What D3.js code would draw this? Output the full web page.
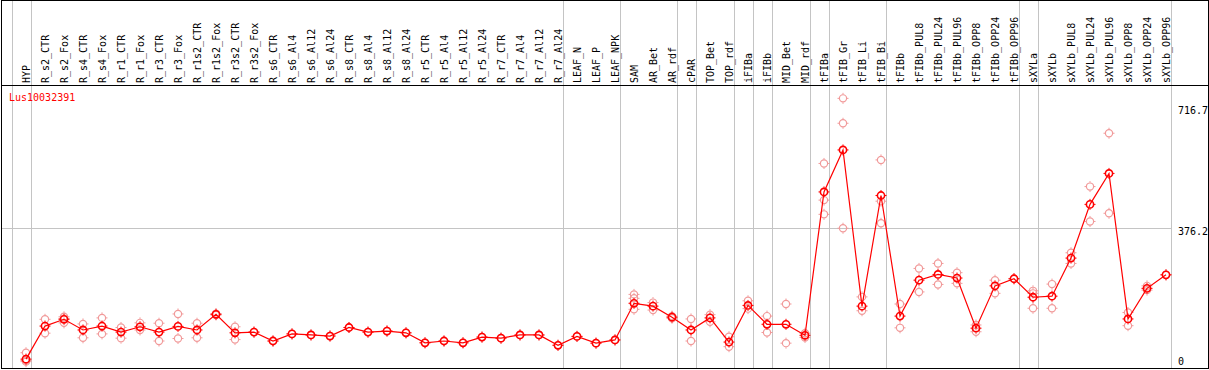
<!DOCTYPE html>
<html>
<head>
<meta charset="utf-8">
<script src="https://d3js.org/d3.v7.min.js"></script>
<style>
  body { margin: 0; background: #fff; }
  svg { display: block; }
  text { font-family: 'DejaVu Sans Mono', monospace; font-size: 10px; }
</style>
</head>
<body>
<div id="chart"></div>
<script>

  // sample names along the top
  var categories = ["HYP", "R_s2_CTR", "R_s2_Fox", "R_s4_CTR", "R_s4_Fox", "R_r1_CTR", "R_r1_Fox",
    "R_r3_CTR", "R_r3_Fox", "R_r1s2_CTR", "R_r1s2_Fox", "R_r3s2_CTR", "R_r3s2_Fox", "R_s6_CTR",
    "R_s6_Al4", "R_s6_Al12", "R_s6_Al24", "R_s8_CTR", "R_s8_Al4", "R_s8_Al12", "R_s8_Al24",
    "R_r5_CTR", "R_r5_Al4", "R_r5_Al12", "R_r5_Al24", "R_r7_CTR", "R_r7_Al4", "R_r7_Al12", "R_r7_Al24",
    "LEAF_N", "LEAF_P", "LEAF_NPK", "SAM", "AR_Bet", "AR_rdf", "cPAR", "TOP_Bet", "TOP_rdf",
    "iFIBa", "iFIBb", "MID_Bet", "MID_rdf", "tFIBa", "tFIB_Gr", "tFIB_Li", "tFIB_Bi", "tFIBb",
    "tFIBb_PUL8", "tFIBb_PUL24", "tFIBb_PUL96", "tFIBb_OPP8", "tFIBb_OPP24", "tFIBb_OPP96",
    "sXYLa", "sXYLb", "sXYLb_PUL8", "sXYLb_PUL24", "sXYLb_PUL96", "sXYLb_OPP8", "sXYLb_OPP24", "sXYLb_OPP96"];

  // mean expression per sample
  var means = [8, 101, 120, 90, 101, 84, 99, 84, 100, 90, 134, 82, 84, 59,
    79, 76, 73, 97, 84, 87, 82,
    54, 59, 54, 70, 67, 76, 76, 47,
    72, 53, 62, 165, 157, 126, 90, 124, 56,
    159, 106, 106, 75, 478, 596, 157, 468, 129,
    230, 246, 236, 95, 214, 234,
    182, 185, 292, 443, 530, 121, 207, 245];

  // replicate values per sample (same order as categories)
  var replicates = [[26, 4, 1], [120, 81], [127, 122, 110], [107, 68], [124, 79], [97, 67], [110, 90],
    [109, 59], [135, 66], [109, 68], [136, 132], [99, 63], [84], [59],
    [79], [76], [73], [97], [84], [87], [82],
    [54], [59], [54], [70], [67], [76], [76], [47],
    [72], [53], [62], [190, 179, 148], [167, 146], [129, 123], [121, 59], [133, 113], [71, 43],
    [172, 150], [129, 83], [163, 53], [81, 69], [558, 455, 415], [741, 671, 376], [183, 144], [568, 452, 390], [163, 96],
    [263, 197], [277, 218], [251, 221], [104, 85], [230, 193], [234],
    [200, 193, 151], [219, 151], [307, 277], [493, 395], [643, 418], [139, 102], [214, 202], [245]];

  // a grey separator is drawn after each of these samples
  var groupEnds = ["HYP", "R_r7_Al24", "LEAF_NPK", "AR_rdf", "cPAR", "TOP_rdf", "iFIBa", "iFIBb",
    "MID_rdf", "tFIBa", "tFIB_Bi", "tFIBb_OPP96", "sXYLa", "sXYLb_OPP96"];

  var yTicks = [0, 376.2, 716.7];
  var geneName = "Lus10032391";

  var width = 1209, height = 370;
  var headerBottom = 85.5;

  var svg = d3.select("#chart")
    .append("svg")
    .attr("width", width)
    .attr("height", height);

  var x = d3.scalePoint()
    .domain(categories)
    .range([26, 1166]);

  var y = d3.scaleLinear()
    .domain([0, 716.7])
    .range([362, 107]);

  // vertical separators (run through header too)
  var sepX = [x("HYP") - 14.5].concat(groupEnds.map(function (c) { return x(c) + 4.5; }));
  svg.selectAll("line.sep")
    .data(sepX)
    .enter()
    .append("line")
    .attr("class", "sep")
    .attr("x1", function (d) { return Math.round(d) + 0.5; })
    .attr("x2", function (d) { return Math.round(d) + 0.5; })
    .attr("y1", 0)
    .attr("y2", 369)
    .attr("stroke", "#c4c4c4")
    .attr("stroke-width", 1)
    .attr("shape-rendering", "crispEdges");

  // middle horizontal gridline
  svg.append("line")
    .attr("x1", 1)
    .attr("x2", Math.round(x("sXYLb_OPP96") + 4.5))
    .attr("y1", Math.round(y(376.2)) + 0.5)
    .attr("y2", Math.round(y(376.2)) + 0.5)
    .attr("stroke", "#c4c4c4")
    .attr("shape-rendering", "crispEdges");

  // frame
  svg.append("rect")
    .attr("x", 1.5)
    .attr("y", 0.5)
    .attr("width", 1206.5)
    .attr("height", 368)
    .attr("fill", "none")
    .attr("stroke", "#000")
    .attr("shape-rendering", "crispEdges");

  svg.append("line")
    .attr("x1", 1)
    .attr("x2", 1208)
    .attr("y1", headerBottom)
    .attr("y2", headerBottom)
    .attr("stroke", "#000")
    .attr("shape-rendering", "crispEdges");

  // rotated sample labels
  svg.selectAll("text.cat")
    .data(categories)
    .enter()
    .append("text")
    .attr("class", "cat")
    .attr("transform", function (d) { return "translate(" + (x(d) + 4) + "," + 83 + ")rotate(-90)"; })
    .attr("text-anchor", "start")
    .attr("fill", "#000")
    .text(function (d) { return d; });

  // y labels on the right
  svg.selectAll("text.ytick")
    .data(yTicks)
    .enter()
    .append("text")
    .attr("class", "ytick")
    .attr("x", 1178)
    .attr("y", function (d) { return Math.min(y(d) + 3, 361) + 3.5; })
    .attr("fill", "#000")
    .text(function (d) { return d; });

  svg.append("text")
    .attr("x", 9)
    .attr("y", 101)
    .attr("fill", "#ff0000")
    .text(geneName);

  // marker: circle with four small ticks
  function marker(g, color, sw) {
    g.append("circle")
      .attr("r", 3.6)
      .attr("fill", "none")
      .attr("stroke", color)
      .attr("stroke-width", sw);
    [[0, -4, 0, -5.5], [0, 4, 0, 5.5], [-4, 0, -5.5, 0], [4, 0, 5.5, 0]].forEach(function (t) {
      g.append("line")
        .attr("x1", t[0]).attr("y1", t[1])
        .attr("x2", t[2]).attr("y2", t[3])
        .attr("stroke", color)
        .attr("stroke-width", 1);
    });
  }

  // replicates
  var repData = [];
  replicates.forEach(function (r, i) {
    r.forEach(function (v) { repData.push({ cat: categories[i], value: v }); });
  });
  svg.selectAll("g.rep")
    .data(repData)
    .enter()
    .append("g")
    .attr("class", "rep")
    .attr("transform", function (d) { return "translate(" + x(d.cat) + "," + y(d.value) + ")"; })
    .each(function () { marker(d3.select(this), "#f19a9a", 1.2); });

  // mean line
  var line = d3.line()
    .x(function (d, i) { return x(categories[i]); })
    .y(function (d) { return y(d); });

  svg.append("path")
    .datum(means)
    .attr("d", line)
    .attr("fill", "none")
    .attr("stroke", "#ff0000")
    .attr("stroke-width", 1.2);

  svg.selectAll("g.mean")
    .data(means)
    .enter()
    .append("g")
    .attr("class", "mean")
    .attr("transform", function (d, i) { return "translate(" + x(categories[i]) + "," + y(d) + ")"; })
    .each(function () { marker(d3.select(this), "#ff0000", 1.6); });

</script>
</body>
</html>
